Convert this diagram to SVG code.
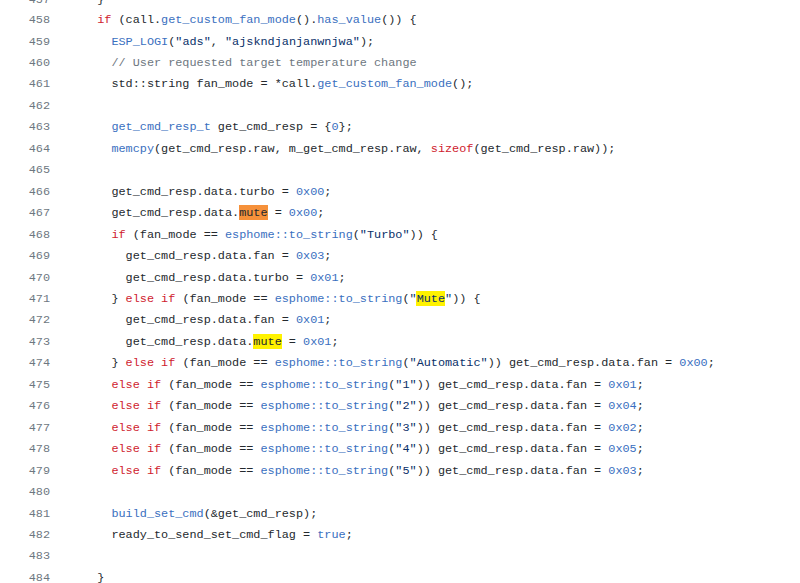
<svg xmlns="http://www.w3.org/2000/svg" width="800" height="583" viewBox="0 0 800 583">
<style>
text{font-family:"Liberation Mono","DejaVu Sans Mono",monospace;font-size:11.83px;fill:#24292e;white-space:pre}
.n{fill:#6e7781;text-anchor:end}
.k{fill:#cf222e}.f{fill:#3a6fc0}.s{fill:#0a3069}.c{fill:#6e7781}.v{fill:#3a6fc0}
</style>
<rect width="800" height="583" fill="#fff"/>
<g id="highlights">
<rect x="239" y="205" width="29" height="15" fill="#f6913a"/>
<rect x="416" y="291" width="29" height="15" fill="#fff200"/>
<rect x="253" y="334" width="29" height="15" fill="#fff200"/>
</g>
<g id="code" xml:space="preserve">
<text class="n" x="50" y="3">457</text><text x="97.2" y="3">}</text>
<text class="n" x="50" y="23">458</text><text x="97.2" y="23"><tspan class="k">if</tspan> (call.<tspan class="f">get_custom_fan_mode</tspan>().<tspan class="f">has_value</tspan>()) {</text>
<text class="n" x="50" y="44.5">459</text><text x="111.4" y="44.5"><tspan class="f">ESP_LOGI</tspan>(<tspan class="s">"ads"</tspan>, <tspan class="s">"ajskndjanjanwnjwa"</tspan>);</text>
<text class="n" x="50" y="65.9">460</text><text x="111.4" y="65.9" class="c">// User requested target temperature change</text>
<text class="n" x="50" y="87.4">461</text><text x="111.4" y="87.4">std::string fan_mode = *call.<tspan class="f">get_custom_fan_mode</tspan>();</text>
<text class="n" x="50" y="108.8">462</text>
<text class="n" x="50" y="130.3">463</text><text x="111.4" y="130.3"><tspan class="f">get_cmd_resp_t</tspan> get_cmd_resp = {<tspan class="v">0</tspan>};</text>
<text class="n" x="50" y="151.8">464</text><text x="111.4" y="151.8"><tspan class="f">memcpy</tspan>(get_cmd_resp.raw, m_get_cmd_resp.raw, <tspan class="k">sizeof</tspan>(get_cmd_resp.raw));</text>
<text class="n" x="50" y="173.2">465</text>
<text class="n" x="50" y="194.7">466</text><text x="111.4" y="194.7">get_cmd_resp.data.turbo = <tspan class="v">0x00</tspan>;</text>
<text class="n" x="50" y="216.1">467</text><text x="111.4" y="216.1">get_cmd_resp.data.mute = <tspan class="v">0x00</tspan>;</text>
<text class="n" x="50" y="237.6">468</text><text x="111.4" y="237.6"><tspan class="k">if</tspan> (fan_mode == <tspan class="f">esphome::to_string</tspan>(<tspan class="s">"Turbo"</tspan>)) {</text>
<text class="n" x="50" y="259">469</text><text x="125.6" y="259">get_cmd_resp.data.fan = <tspan class="v">0x03</tspan>;</text>
<text class="n" x="50" y="280.5">470</text><text x="125.6" y="280.5">get_cmd_resp.data.turbo = <tspan class="v">0x01</tspan>;</text>
<text class="n" x="50" y="302">471</text><text x="111.4" y="302">} <tspan class="k">else if</tspan> (fan_mode == <tspan class="f">esphome::to_string</tspan>(<tspan class="s">"Mute"</tspan>)) {</text>
<text class="n" x="50" y="323.4">472</text><text x="125.6" y="323.4">get_cmd_resp.data.fan = <tspan class="v">0x01</tspan>;</text>
<text class="n" x="50" y="344.9">473</text><text x="125.6" y="344.9">get_cmd_resp.data.mute = <tspan class="v">0x01</tspan>;</text>
<text class="n" x="50" y="366.3">474</text><text x="111.4" y="366.3">} <tspan class="k">else if</tspan> (fan_mode == <tspan class="f">esphome::to_string</tspan>(<tspan class="s">"Automatic"</tspan>)) get_cmd_resp.data.fan = <tspan class="v">0x00</tspan>;</text>
<text class="n" x="50" y="387.8">475</text><text x="111.4" y="387.8"><tspan class="k">else if</tspan> (fan_mode == <tspan class="f">esphome::to_string</tspan>(<tspan class="s">"1"</tspan>)) get_cmd_resp.data.fan = <tspan class="v">0x01</tspan>;</text>
<text class="n" x="50" y="409.2">476</text><text x="111.4" y="409.2"><tspan class="k">else if</tspan> (fan_mode == <tspan class="f">esphome::to_string</tspan>(<tspan class="s">"2"</tspan>)) get_cmd_resp.data.fan = <tspan class="v">0x04</tspan>;</text>
<text class="n" x="50" y="430.7">477</text><text x="111.4" y="430.7"><tspan class="k">else if</tspan> (fan_mode == <tspan class="f">esphome::to_string</tspan>(<tspan class="s">"3"</tspan>)) get_cmd_resp.data.fan = <tspan class="v">0x02</tspan>;</text>
<text class="n" x="50" y="452.1">478</text><text x="111.4" y="452.1"><tspan class="k">else if</tspan> (fan_mode == <tspan class="f">esphome::to_string</tspan>(<tspan class="s">"4"</tspan>)) get_cmd_resp.data.fan = <tspan class="v">0x05</tspan>;</text>
<text class="n" x="50" y="473.6">479</text><text x="111.4" y="473.6"><tspan class="k">else if</tspan> (fan_mode == <tspan class="f">esphome::to_string</tspan>(<tspan class="s">"5"</tspan>)) get_cmd_resp.data.fan = <tspan class="v">0x03</tspan>;</text>
<text class="n" x="50" y="495">480</text>
<text class="n" x="50" y="516.5">481</text><text x="111.4" y="516.5"><tspan class="f">build_set_cmd</tspan>(&amp;get_cmd_resp);</text>
<text class="n" x="50" y="538">482</text><text x="111.4" y="538">ready_to_send_set_cmd_flag = <tspan class="v">true</tspan>;</text>
<text class="n" x="50" y="559.4">483</text>
<text class="n" x="50" y="580.9">484</text><text x="97.2" y="580.9">}</text>
</g>
<g id="connectors"/>
</svg>
